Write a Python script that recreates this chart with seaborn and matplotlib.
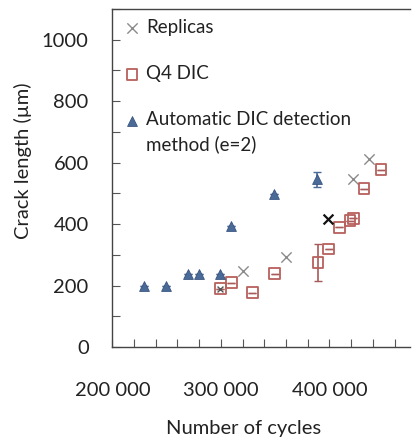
import matplotlib
matplotlib.use("Agg")
import matplotlib.pyplot as plt
import seaborn as sns
import pandas as pd
from matplotlib.ticker import MultipleLocator, FuncFormatter

# Data
dic_auto_cycles = [229000, 249500, 269500, 279500, 299500, 309500, 349000, 389000]
dic_auto_length = [200, 200, 236, 236, 236, 394, 497, 545]
dic_auto_err = [0, 0, 0, 0, 0, 0, 0, 25]

q4_cycles = [299500, 309500, 329000, 349500, 389500, 399500, 409000, 419000, 422000, 432000, 447500]
q4_length = [190, 209, 177, 239, 276, 319, 390, 411, 419, 515, 577]
q4_err = [0, 0, 0, 0, 60, 0, 0, 0, 0, 0, 0]

replica_cycles = [320000, 360000, 422000, 436500]
replica_length = [246, 292, 545, 612]

# replica marks drawn darker where they overlap other marks
replica_dark_cycles = [398500, 299500]
replica_dark_length = [416, 190]

sns.set_style("white")
plt.rcParams['font.family'] = ['Lato', 'DejaVu Sans']

fig = plt.figure(figsize=(4.13, 4.46), dpi=100)
ax = fig.add_axes([0.272, 0.222, 0.72, 0.758])

auto_df = pd.DataFrame({'cycles': dic_auto_cycles, 'length': dic_auto_length})
q4_df = pd.DataFrame({'cycles': q4_cycles, 'length': q4_length})
rep_df = pd.DataFrame({'cycles': replica_cycles, 'length': replica_length})

ax.errorbar(dic_auto_cycles, dic_auto_length, yerr=dic_auto_err, fmt='none',
            ecolor='#4a6a98', elinewidth=1.2, capsize=3)
ax.errorbar(q4_cycles, q4_length, yerr=q4_err, fmt='none',
            ecolor='#a85a58', elinewidth=1.2, capsize=3)

sns.scatterplot(data=rep_df, x='cycles', y='length', marker='x', color='#8a8a8a',
                s=55, linewidth=1.0, ax=ax, label='Replicas', zorder=3)
sns.scatterplot(data=q4_df, x='cycles', y='length', marker='s', facecolor='none',
                edgecolor='#b9605c', s=60, linewidth=1.3, ax=ax, label='Q4 DIC', zorder=3)
sns.scatterplot(data=auto_df, x='cycles', y='length', marker='^', color='#4a6a98',
                edgecolor='#3a5580', s=50, linewidth=0.6, ax=ax,
                label='Automatic DIC detection\nmethod (e=2)', zorder=4)
ax.scatter(replica_dark_cycles[:1], replica_dark_length[:1], marker='x', color='#111111',
           s=50, linewidth=1.6, zorder=5)
ax.scatter(replica_dark_cycles[1:], replica_dark_length[1:], marker='x', color='#555555',
           s=18, linewidth=1.0, zorder=5)

ax.set_xlim(200000, 474000)
ax.set_ylim(0, 1100)

ax.xaxis.set_major_locator(MultipleLocator(100000))
ax.xaxis.set_minor_locator(MultipleLocator(20000))
ax.yaxis.set_major_locator(MultipleLocator(200))
ax.yaxis.set_minor_locator(MultipleLocator(100))
ax.xaxis.set_major_formatter(FuncFormatter(lambda v, p: f"{int(v):,}".replace(",", " ")))
ax.yaxis.set_major_formatter(FuncFormatter(lambda v, p: f"{int(v)}"))

ax.tick_params(axis='both', which='both', direction='in', length=6, width=0.8,
               color='#555555', labelsize=14.5, labelcolor='#222222')
ax.tick_params(axis='x', which='both', bottom=True, pad=25)
ax.tick_params(axis='y', which='both', left=True, pad=17)

for side in ['left', 'bottom', 'top']:
    ax.spines[side].set_color('#444444')
    ax.spines[side].set_linewidth(1.0)
ax.spines['right'].set_visible(False)

ax.set_xlabel('Number of cycles', fontsize=14.5, color='#222222')
ax.set_ylabel('Crack length (µm)', fontsize=14.5, color='#222222')
ax.xaxis.set_label_coords(0.44, -0.215)
ax.yaxis.set_label_coords(-0.27, 0.55)

leg = ax.legend(loc='upper left', bbox_to_anchor=(0.0, 1.0), frameon=False, fontsize=13.5,
                labelspacing=1.55, handletextpad=0.25, handlelength=1.0, borderaxespad=0.15,
                labelcolor='#222222')
for t in leg.get_texts():
    t.set_linespacing(1.45)

# put the triangle next to the first line of its two-line label
tri = leg.legend_handles[2]
offs = tri.get_offsets().copy()
offs[:, 1] += 9.5
tri.set_offsets(offs)

fig.savefig('out.png', dpi=100)
